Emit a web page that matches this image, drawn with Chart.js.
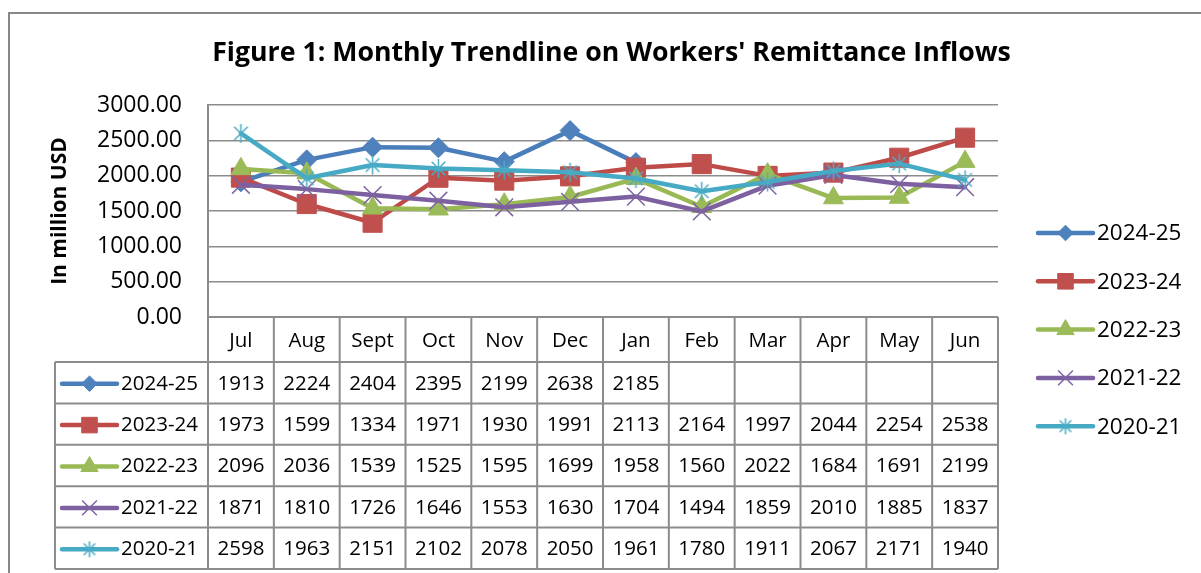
<!DOCTYPE html>
<html><head><meta charset="utf-8">
<script src="https://cdn.jsdelivr.net/npm/chart.js@4.4.1/dist/chart.umd.min.js"></script>
<style>html,body{margin:0;padding:0;background:#fff;}canvas{display:block;}</style>
</head><body>
<canvas id="c" width="1201" height="573"></canvas>
<script>
// ---- data ----
const categories = ['Jul','Aug','Sept','Oct','Nov','Dec','Jan','Feb','Mar','Apr','May','Jun'];
const seriesNames = ['2024-25','2023-24','2022-23','2021-22','2020-21'];
const fy2024_25 = [1913,2224,2404,2395,2199,2638,2185,null,null,null,null,null];
const fy2023_24 = [1973,1599,1334,1971,1930,1991,2113,2164,1997,2044,2254,2538];
const fy2022_23 = [2096,2036,1539,1525,1595,1699,1958,1560,2022,1684,1691,2199];
const fy2021_22 = [1871,1810,1726,1646,1553,1630,1704,1494,1859,2010,1885,1837];
const fy2020_21 = [2598,1963,2151,2102,2078,2050,1961,1780,1911,2067,2171,1940];
const seriesData = [fy2024_25, fy2023_24, fy2022_23, fy2021_22, fy2020_21];
const yMin = 0, yMax = 3000, yStep = 500;
const chartTitle = "Figure 1: Monthly Trendline on Workers' Remittance Inflows";
const yTitle = 'In million USD';

// ---- styles ----
const FONT = "'Open Sans', sans-serif";
const lineColors = ['#4A7EBB','#BE4B48','#98B954','#7D60A0','#46AAC5'];
const fillColors = ['#4F81BD','#C0504D','#9BBB59','#8064A2','#4BACC6'];
const GRID = '#8c8c8c';

function starCanvas(size, color, lw){
  const c = document.createElement('canvas');
  c.width = c.height = size;
  const g = c.getContext('2d');
  const h = size/2, a = h - 1, d = a*0.72;
  g.strokeStyle = color; g.lineWidth = lw; g.lineCap = 'butt';
  g.beginPath();
  g.moveTo(h-d,h-d); g.lineTo(h+d,h+d);
  g.moveTo(h+d,h-d); g.lineTo(h-d,h+d);
  g.moveTo(h,h-a); g.lineTo(h,h+a);
  g.stroke();
  return c;
}
const starBig = starCanvas(21, fillColors[4], 1.5);
const starSmall = starCanvas(18, fillColors[4], 1.5);

const markerStyles = [
  {ps:'rectRot', r:10, lr:7.8},
  {ps:'rect', r:13.5, lr:11},
  {ps:'triangle', r:11.5, lr:10},
  {ps:'crossRot', r:12.5, lr:10.5},
  {ps:starBig, r:10, lr:0}
];

function drawMarker(ctx, i, x, y){
  const m = markerStyles[i], r = m.lr;
  ctx.save();
  ctx.fillStyle = fillColors[i]; ctx.strokeStyle = fillColors[i]; ctx.lineWidth = 1;
  ctx.beginPath();
  if (m.ps === 'rectRot') {
    ctx.moveTo(x, y-r); ctx.lineTo(x+r, y); ctx.lineTo(x, y+r); ctx.lineTo(x-r, y); ctx.closePath();
    ctx.fill(); ctx.stroke();
  } else if (m.ps === 'rect') {
    const s = r*Math.SQRT1_2; ctx.rect(x-s, y-s, 2*s, 2*s); ctx.fill(); ctx.stroke();
  } else if (m.ps === 'triangle') {
    ctx.moveTo(x, y-r); ctx.lineTo(x+r*0.866, y+r/2); ctx.lineTo(x-r*0.866, y+r/2); ctx.closePath();
    ctx.fill(); ctx.stroke();
  } else if (m.ps === 'crossRot') {
    const s = r*Math.SQRT1_2; ctx.lineWidth = 1.5;
    ctx.moveTo(x-s, y-s); ctx.lineTo(x+s, y+s); ctx.moveTo(x+s, y-s); ctx.lineTo(x-s, y+s); ctx.stroke();
  } else {
    ctx.drawImage(starSmall, x - starSmall.width/2, y - starSmall.height/2);
  }
  ctx.restore();
}

function drawKey(ctx, i, x1, x2, y){
  ctx.save();
  ctx.strokeStyle = lineColors[i]; ctx.lineWidth = 4.5; ctx.lineCap = 'round';
  ctx.beginPath(); ctx.moveTo(x1, y); ctx.lineTo(x2, y); ctx.stroke();
  ctx.restore();
  drawMarker(ctx, i, (x1+x2)/2, y);
}

const framePlugin = {
  id: 'frameTable',
  beforeDraw(chart){
    const ctx = chart.ctx;
    ctx.save();
    ctx.fillStyle = '#fff'; ctx.fillRect(0, 0, chart.width, chart.height);
    ctx.strokeStyle = '#878787'; ctx.lineWidth = 2;
    ctx.beginPath(); ctx.moveTo(9, chart.height); ctx.lineTo(9, 13); ctx.lineTo(chart.width, 13); ctx.stroke();
    ctx.restore();
  },
  afterDraw(chart){
    const ctx = chart.ctx, xs = chart.scales.x, area = chart.chartArea;
    const n = categories.length;
    const half = (xs.getPixelForValue(1) - xs.getPixelForValue(0)) / 2;
    const edges = categories.map((_, i) => xs.getPixelForValue(i) - half);
    edges.push(xs.getPixelForValue(n-1) + half);
    const top = area.bottom, headerBottom = top + 45, bottom = xs.bottom;
    const rowH = (bottom - headerBottom) / seriesNames.length;
    const labelLeft = 55;
    ctx.save();
    ctx.strokeStyle = GRID; ctx.lineWidth = 2;
    ctx.beginPath();
    ctx.moveTo(edges[0], top); ctx.lineTo(edges[n], top);
    for (let r = 0; r <= seriesNames.length; r++) {
      const y = headerBottom + r*rowH;
      ctx.moveTo(labelLeft, y); ctx.lineTo(edges[n], y);
    }
    edges.forEach(x => { ctx.moveTo(x, top); ctx.lineTo(x, bottom); });
    ctx.moveTo(labelLeft, headerBottom); ctx.lineTo(labelLeft, bottom);
    ctx.stroke();
    ctx.restore();

    ctx.save();
    ctx.fillStyle = '#000'; ctx.textBaseline = 'middle';
    ctx.font = "20.5px " + FONT;
    seriesNames.forEach((name, s) => {
      const cy = headerBottom + s*rowH + rowH/2 + 1;
      drawKey(ctx, s, 62, 117, cy);
      ctx.fillStyle = '#000'; ctx.textAlign = 'left'; ctx.font = "20.5px " + FONT;
      ctx.fillText(name, 121, cy);
      ctx.textAlign = 'center';
      seriesData[s].forEach((v, i) => {
        if (v !== null) ctx.fillText(String(v), xs.getPixelForValue(i), cy);
      });
    });
    // right legend
    seriesNames.forEach((name, s) => {
      const cy = 233 + s*48.3;
      drawKey(ctx, s, 1038, 1093, cy);
      ctx.fillStyle = '#000'; ctx.font = "22.5px " + FONT; ctx.textAlign = 'left'; ctx.textBaseline = 'middle';
      ctx.fillText(name, 1097, cy + 1);
    });
    ctx.restore();
  }
};

new Chart(document.getElementById('c'), {
  type: 'line',
  data: {
    labels: categories,
    datasets: seriesNames.map((name, i) => ({
      label: name,
      data: seriesData[i],
      borderColor: lineColors[i],
      backgroundColor: fillColors[i],
      pointBackgroundColor: fillColors[i],
      pointBorderColor: fillColors[i],
      pointStyle: markerStyles[i].ps,
      pointRadius: markerStyles[i].r,
      pointBorderWidth: i === 3 ? 1.5 : 1,
      borderWidth: 4.5,
      borderJoinStyle: 'round',
      borderCapStyle: 'round',
      tension: 0,
      spanGaps: false,
      fill: false,
      order: 5 - i,
      yAxisID: 'y'
    }))
  },
  options: {
    responsive: false,
    animation: false,
    devicePixelRatio: 1,
    layout: { padding: { top: 0, left: 22, right: 0, bottom: 4 } },
    plugins: {
      legend: { display: false },
      tooltip: { enabled: false },
      title: {
        display: true, text: chartTitle, color: '#000',
        font: { family: FONT, size: 26.7, weight: 'bold' },
        padding: { top: 37, bottom: 36 }
      }
    },
    scales: {
      x: {
        type: 'category', offset: true,
        grid: { display: false }, border: { display: false },
        ticks: { font: { family: FONT, size: 20.5 }, color: '#000', padding: 4, maxRotation: 0, autoSkip: false },
        afterFit(s){ s.height = 252; }
      },
      y: {
        position: 'left',
        min: yMin, max: yMax,
        ticks: { stepSize: yStep, callback: v => Number(v).toFixed(2), font: { family: FONT, size: 23 }, color: '#000', padding: 26 },
        grid: { color: GRID, lineWidth: 1.5, drawTicks: false },
        border: { display: true, color: GRID, width: 2 },
        title: { display: true, text: yTitle, color: '#000', font: { family: FONT, size: 21, weight: 'bold' }, padding: { top: 25.4, bottom: 0 } },
        afterFit(s){ s.width = 186; }
      },
      legendSpace: {
        type: 'linear', position: 'right', display: true,
        grid: { display: false, drawOnChartArea: false }, border: { display: false },
        ticks: { display: false },
        afterFit(s){ s.width = 203; }
      }
    }
  },
  plugins: [framePlugin]
});
</script>
</body></html>
